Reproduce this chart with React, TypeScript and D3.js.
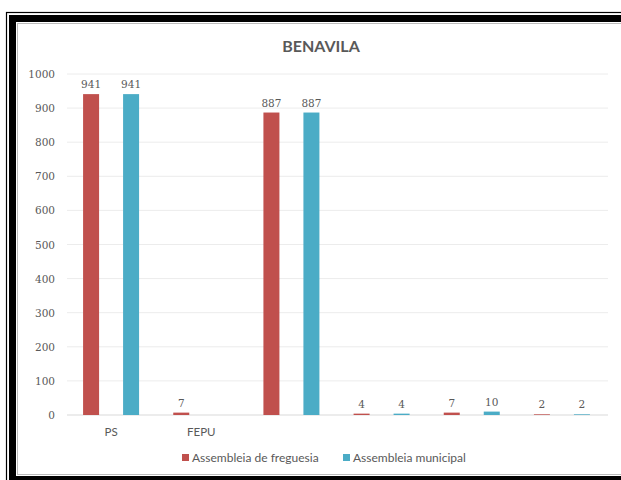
import React from "react";
import * as d3 from "d3";

const title = "BENAVILA";
const categories = ["PS", "FEPU", "c3", "c4", "c5", "c6"];
const categoryLabels = ["PS", "FEPU", "", "", "", ""];
const seriesNames = ["Assembleia de freguesia", "Assembleia municipal"];
const freguesia: (number | null)[] = [941, 7, 887, 4, 7, 2];
const municipal: (number | null)[] = [941, null, 887, 4, 10, 2];
const yTicks = [0, 100, 200, 300, 400, 500, 600, 700, 800, 900, 1000];
const colors = ["#C0504D", "#4BACC6"];

const W = 621;
const H = 480;
const FONT = "Lato, 'Open Sans', 'Liberation Sans', sans-serif";
const NUMFONT = "'DejaVu Serif', 'Liberation Serif', serif";
const TEXT = "#595959";

export default function App() {
  const plotLeft = 67;
  const plotRight = 608;
  const x = d3.scaleBand<string>().domain(categories).range([plotLeft, plotRight]);
  const y = d3.scaleLinear().domain([0, 1000]).range([415, 74]);
  const offset = d3.scaleBand<number>().domain([0, 1]).range([-28, 28]).paddingInner(0.6).paddingOuter(0);
  const series = [freguesia, municipal];

  return (
    <svg width={W} height={H} style={{ position: "absolute", left: 0, top: 0, background: "#fff" }}>
      <rect x={0} y={0} width={W} height={H} fill="#fff" />
      {/* frame */}
      <rect x={6.5} y={12.5} width={W + 20} height={480} fill="none" stroke="#000" strokeWidth={1.2} />
      <rect x={12.5} y={18.5} width={W + 20} height={461} fill="none" stroke="#000" strokeWidth={7} />
      <rect x={17.5} y={23.5} width={W + 20} height={451} fill="none" stroke="#bbb" strokeWidth={1} />

      {/* title */}
      <text x={321} y={52} textAnchor="middle" fontFamily={FONT} fontSize={16} fontWeight={700} fill={TEXT}>
        {title}
      </text>

      {/* gridlines and y labels */}
      {yTicks.map((t) => (
        <g key={t}>
          <line x1={plotLeft} x2={plotRight} y1={y(t)} y2={y(t)} stroke={t === 0 ? "#d9d9d9" : "#ececec"} strokeWidth={1} />
          <text x={55} y={y(t) + 4} textAnchor="end" fontFamily={NUMFONT} fontSize={10.5} fill={TEXT}>
            {t}
          </text>
        </g>
      ))}

      {/* bars */}
      {series.map((vals, si) =>
        vals.map((v, ci) => {
          if (v === null) return null;
          const cx = (x(categories[ci]) as number) + x.bandwidth() / 2 - 1;
          const bx = cx + (offset(si) as number);
          const bw = offset.bandwidth();
          const top = y(v);
          return (
            <g key={`${si}-${ci}`}>
              <rect x={bx} y={top} width={bw} height={y(0) - top} fill={colors[si]} />
              <text x={bx + bw / 2} y={top - 6} textAnchor="middle" fontFamily={NUMFONT} fontSize={10.5} fill={TEXT}>
                {v}
              </text>
            </g>
          );
        })
      )}

      {/* category labels */}
      {categories.map((c, i) => (
        <text
          key={c}
          x={(x(c) as number) + x.bandwidth() / 2 - 1}
          y={436}
          textAnchor="middle"
          fontFamily={FONT}
          fontSize={11.5}
          fill={TEXT}
        >
          {categoryLabels[i]}
        </text>
      ))}

      {/* legend */}
      {seriesNames.map((n, i) => {
        const lx = [182, 343][i];
        return (
          <g key={n}>
            <rect x={lx} y={454} width={7} height={7} fill={colors[i]} />
            <text x={lx + 10} y={462} fontFamily={FONT} fontSize={12} fill={TEXT}>
              {n}
            </text>
          </g>
        );
      })}
    </svg>
  );
}
